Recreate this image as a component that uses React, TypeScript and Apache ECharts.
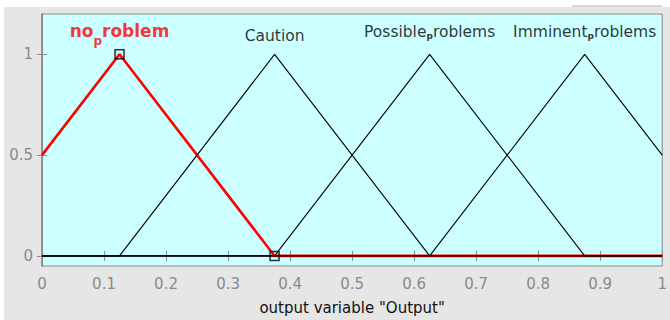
import React, { useEffect, useRef } from 'react';
import * as echarts from 'echarts';

// Membership functions of the output variable (vertices of each triangle, clipped to [0, 1])
const mfNames = ['no_problem', 'Caution', 'Possible_problems', 'Imminent_problems'];
const mfPeaks = [0.125, 0.375, 0.625, 0.875];
const noProblemPts = [[0, 0.5], [0.125, 1], [0.375, 0], [1, 0]];
const cautionPts = [[0, 0], [0.125, 0], [0.375, 1], [0.625, 0], [1, 0]];
const possiblePts = [[0, 0], [0.375, 0], [0.625, 1], [0.875, 0], [1, 0]];
const imminentPts = [[0, 0], [0.625, 0], [0.875, 1], [1, 0.5]];
// Vertex handles of the selected function
const selectedHandles = [[0.125, 1], [0.375, 0]];
const yTickValues = [0, 0.5, 1];
const labelLevel = 1.093;
const selectedIndex = 0;

const FONT = '"DejaVu Sans", sans-serif';
const AXIS_GRAY = '#8a8a8a';

// TeX-style rendering: the character after "_" becomes a subscript
function texLabel(name: string): string {
  const [head, tail] = name.split('_');
  if (!tail) return `{m|${head}}`;
  return `{m|${head}}{s|${tail[0]}}{m|${tail.slice(1)}}`;
}

export default function App() {
  const ref = useRef<HTMLDivElement>(null);

  useEffect(() => {
    document.body.style.margin = '0';
    const chart = echarts.init(ref.current!, null, { renderer: 'svg' });

    const blackLine = (data: number[][]) => ({
      type: 'line',
      data,
      symbol: 'none',
      z: 4,
      lineStyle: { color: '#000', width: 1.1 },
      silent: true,
    });

    const labelData = mfNames.map((name, i) => {
      const sel = i === selectedIndex;
      const hasSub = name.includes('_');
      return {
        name,
        value: [mfPeaks[i], labelLevel],
        label: {
          show: true,
          position: 'inside',
          offset: [0, sel ? -4 : hasSub ? -3 : 1],
          formatter: (p: any) => texLabel(p.name),
          rich: sel
            ? {
                m: { fontFamily: FONT, fontSize: 17, fontWeight: 'bold', color: '#ff0000', lineHeight: 18, verticalAlign: 'top' },
                s: { fontFamily: FONT, fontSize: 12, fontWeight: 'bold', color: '#ff0000', lineHeight: 12, padding: [12, 0, 6, 0], verticalAlign: 'top' },
              }
            : {
                m: { fontFamily: FONT, fontSize: 15.5, color: '#000', lineHeight: 18, verticalAlign: 'top' },
                s: { fontFamily: FONT, fontSize: 9, fontWeight: 'bold', color: '#000', lineHeight: 10, padding: [8, 0, 7, 0], verticalAlign: 'top' },
              },
        },
      };
    });

    chart.setOption({
      animation: false,
      backgroundColor: '#e6e6e6',
      graphic: [
        { type: 'rect', left: 0, top: 0, shape: { width: 670, height: 7 }, style: { fill: '#ffffff' }, z: -1 },
        { type: 'rect', left: 0, top: 0, shape: { width: 4, height: 320 }, style: { fill: '#ffffff' }, z: -1 },
        { type: 'line', shape: { x1: 572, y1: 6, x2: 662, y2: 6 }, style: { stroke: '#b0b0b0', lineWidth: 1 }, z: -1 },
      ],
      grid: {
        left: 42,
        top: 14,
        right: 6,
        bottom: 48,
        show: true,
        backgroundColor: '#ccffff',
        borderColor: AXIS_GRAY,
        borderWidth: 1,
      },
      xAxis: [
        {
          type: 'value',
          min: 0,
          max: 1,
          interval: 0.1,
          position: 'bottom',
          name: 'output variable "Output"',
          nameLocation: 'middle',
          nameGap: 34,
          nameTextStyle: { fontFamily: FONT, fontSize: 15, color: '#111' },
          axisLine: { show: true, lineStyle: { color: AXIS_GRAY, width: 1.5 } },
          axisTick: { show: true, inside: true, length: 5, lineStyle: { color: AXIS_GRAY } },
          axisLabel: { fontFamily: FONT, fontSize: 15, color: AXIS_GRAY, margin: 10 },
          splitLine: { show: false },
        },
        {
          type: 'value',
          min: 0,
          max: 1,
          interval: 0.1,
          position: 'top',
          axisLine: { show: true, lineStyle: { color: AXIS_GRAY, width: 1.5 } },
          axisTick: { show: true, inside: true, length: 5, lineStyle: { color: AXIS_GRAY } },
          axisLabel: { show: false },
          splitLine: { show: false },
        },
      ],
      yAxis: [
        {
          type: 'value',
          min: -0.05,
          max: 1.2,
          position: 'left',
          axisLine: { show: true, lineStyle: { color: AXIS_GRAY, width: 1.5 } },
          axisTick: { show: true, inside: true, length: 5, customValues: yTickValues, lineStyle: { color: AXIS_GRAY } },
          axisLabel: { fontFamily: FONT, fontSize: 15, color: AXIS_GRAY, margin: 9, customValues: yTickValues },
          splitLine: { show: false },
        },
        {
          type: 'value',
          min: -0.05,
          max: 1.2,
          position: 'right',
          axisLine: { show: true, lineStyle: { color: AXIS_GRAY, width: 1 } },
          axisTick: { show: true, inside: true, length: 5, customValues: yTickValues, lineStyle: { color: AXIS_GRAY } },
          axisLabel: { show: false, customValues: yTickValues },
          splitLine: { show: false },
        },
      ],
      series: [
        {
          type: 'line',
          data: noProblemPts,
          symbol: 'none',
          z: 3,
          lineStyle: { color: '#ff0000', width: 2.6 },
          silent: true,
        },
        blackLine(cautionPts),
        blackLine(possiblePts),
        blackLine(imminentPts),
        {
          type: 'scatter',
          data: selectedHandles,
          symbol: 'rect',
          symbolSize: 9,
          z: 6,
          itemStyle: { color: 'rgba(0,0,0,0)', borderColor: '#000', borderWidth: 1.5 },
          silent: true,
        },
        {
          type: 'scatter',
          data: labelData,
          symbolSize: 0,
          z: 7,
          silent: true,
        },
      ],
    });

    return () => chart.dispose();
  }, []);

  return <div ref={ref} style={{ position: 'absolute', left: 0, top: 0, width: 670, height: 320 }} />;
}
